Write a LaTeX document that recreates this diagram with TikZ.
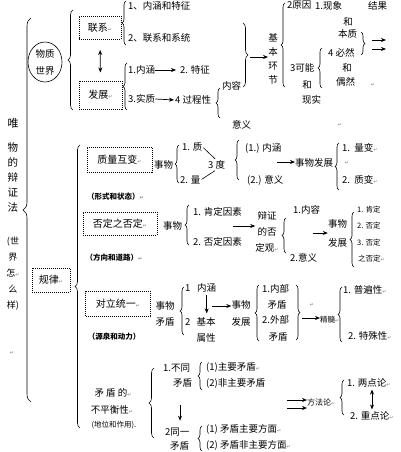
\documentclass[tikz,border=0pt]{standalone}
\usepackage{fontspec}
\setmainfont{Noto Sans CJK SC}
\newfontfamily\symf{DejaVu Sans}
\usetikzlibrary{arrows.meta,positioning,calc,shapes.geometric,decorations.pathreplacing}
\newcommand\fsz[1]{\fontsize{#1}{#1}\selectfont}
\newcommand\rt{{\color{gray}\symf\fsz{5}↵}}
\tikzset{
  txt/.style={inner sep=0pt, anchor=west, font=\fsz{9.5}},
  ctxt/.style={inner sep=0pt, align=center, font=\fsz{9.5}},
  vtxt/.style={inner sep=0pt, align=center, font=\fontsize{9.5}{#1}\selectfont},
  vtxt/.default=14,
  sm/.style={inner sep=0pt, anchor=west, font=\fsz{7.5}},
  tag/.style={inner sep=0pt, font=\bfseries\fsz{7.5}},
  dotbox/.style={draw, dash pattern=on 1pt off 1pt, line width=1pt, inner sep=0pt, font=\fsz{10}},
  arr/.style={-{Stealth[length=5pt,width=4pt]}, line width=0.7pt},
  dbl/.style={{Stealth[length=5pt,width=4pt]}-{Stealth[length=5pt,width=4pt]}, line width=0.7pt},
  brc/.style={decorate, decoration={brace, amplitude=#1}, line width=0.6pt},
  brc/.default=4pt,
  stroke/.style={line width=0.6pt}
}

\begin{document}
\begin{tikzpicture}[x=1pt,y=-1pt]
\useasboundingbox (0,0) rectangle (400,452);

% 总括
\node[ctxt, font=\fsz{11}] (wei) at (13,123) {唯};
\node[vtxt=15, font=\fontsize{10.5}{15}\selectfont] (wdbzf) at (13,178) {物\\的\\辩\\证\\法};
\node[vtxt=16, font=\fontsize{9}{16}\selectfont] (sjzmy) at (13,274) {(世\\界\\怎\rt\\么\\样)};
\node[inner sep=0pt] (r5) at (12,353) {\rt};
\draw[brc=8pt] (31,402) -- (31,18);

% 物质世界
\node[draw, ellipse, minimum width=34pt, minimum height=40pt, inner sep=0pt, align=center, font=\fontsize{9.5}{17}\selectfont, line width=0.6pt] (wzsj) at (45,62) {物质\\世界};
\draw[brc=5pt] (73,110) -- (73,10);
\node[dotbox, minimum width=42pt, minimum height=23pt] (lx) at (100,28) {联系\rt};
\node[dotbox, minimum width=43pt, minimum height=28pt] (fz) at (100.5,95) {发展\rt};
\draw[dbl, shorten <=10pt, shorten >=8pt] (lx.south) -- (fz.north);

\draw[brc] (126,45) -- (126,1);
\node[txt] (nhtz) at (128,5.5) {1、内涵和特征};
\node[txt] (lxxt) at (128,38) {2、联系和系统};
\draw[brc] (127,110) -- (127,63);
\node[txt] (nh1) at (128,70) {1.内涵};
\node[txt] (tz1) at (180,70) {2. 特征};
\draw[arr, shorten >=4pt] (nh1.east) -- (tz1.west);
\node[txt] (sz1) at (128,99) {3.实质};
\node[txt] (gcx) at (175,100) {4 过程性};
\draw[arr, shorten >=1pt] (sz1.east) -- (gcx.west);

\draw[brc] (220,118) -- (220,88);
\node[txt] (nr1) at (222,86) {内容};
\node[txt] (yy1) at (232,125) {意义};
\node[inner sep=0pt] (r1) at (340,125) {\rt};
\draw[brc=5pt] (243,23) -- (243,87);
\node[vtxt=14] (jbhj) at (273,59) {基\\本\\环\\节};
\coordinate (ajb) at (250,57);
\draw[arr] (ajb) -- (ajb -| jbhj.west);

\draw[brc] (285,87) -- (285,3);
\node[txt] (yy) at (287,5.5) {2原因};
\node[txt] (xx) at (315,5.5) {1.现象};
\node[txt] (jg) at (368,5.5) {结果};
\node[ctxt] (he1) at (348,22) {和};
\node[txt] (bz) at (338,34) {本质};
\node[txt] (br) at (328,53) {4 必然};
\node[ctxt] (he2) at (347,68) {和};
\node[txt] (or) at (336,82) {偶然};
\node[inner sep=0pt] (r2) at (373,85) {\rt};
\node[txt] (kn) at (290,68) {3可能};
\node[ctxt] (he3) at (307,85) {和};
\node[txt] (xs) at (302,100) {现实};
\draw[brc] (322,88) -- (322,48);
\draw[brc] (361,32) -- (361,55);
\coordinate (ayj1) at (372,40);
\coordinate (byj1) at (386,40);
\coordinate (ayj2) at (372,49);
\coordinate (byj2) at (386,49);
\draw[arr] (ayj1) -- (byj1);
\draw[arr] (ayj2) -- (byj2);

% 规律
\node[dotbox, minimum width=38pt, minimum height=24pt] (gl) at (51,280) {规律\rt};
\draw[brc=5pt] (80,428) -- (80,145);

% 质量互变
\node[dotbox, minimum width=65pt, minimum height=25pt] (zlhb) at (119.5,159.5) {质量互变\rt};
\node[tag] (xszt) at (115.5,197) {（形式和状态）\rt};
\node[txt] (sw1) at (154,165) {事物};
\draw[brc] (179,183) -- (179,145);
\node[txt] (z1) at (182,147) {1. 质};
\node[txt] (du) at (208,165) {3 度};
\node[txt] (l2) at (180,180) {2. 量};
\draw[stroke, shorten <=1pt, shorten >=2pt] (z1.east) -- (du.north);
\draw[stroke, shorten <=1pt, shorten >=2pt] (l2.east) -- (du.south);
\draw[brc] (239,180) -- (239,140);
\node[txt] (nh2) at (245,148) {(1.) 内涵};
\node[txt] (yy2) at (247,180) {(2.) 意义};
\node[txt] (swfz2) at (295,163) {事物发展};
\coordinate (a2) at (277,162);
\draw[arr] (a2) -- (a2 -| swfz2.west);
\draw[brc] (339,190) -- (339,143);
\node[txt] (lb) at (342,148) {1.\ \ 量变\rt};
\node[inner sep=0pt] (r3) at (347,163) {\rt};
\node[txt] (zb) at (342,180) {2.\ \ 质变\rt};

% 否定之否定
\node[dotbox, minimum width=74pt, minimum height=23pt] (fdzfd) at (120,223.5) {否定之否定\rt};
\node[tag] (fxdl) at (114,258) {（方向和道路）\rt};
\node[txt] (sw2) at (163,226) {事物};
\draw[brc] (189,245) -- (189,205);
\node[txt] (kdys) at (193,212) {1. 肯定因素};
\node[txt] (fdys) at (193,242) {2. 否定因素};
\node[vtxt=16] (bzfdg) at (267,232) {辩证\\的否\\定观\rt};
\coordinate (a3) at (233,226);
\draw[arr] (a3) -- (a3 -| bzfdg.west);
\draw[brc] (286,253) -- (286,218);
\node[txt] (nr3) at (293,210) {1.内容};
\node[txt] (yy3) at (290,258) {2.意义};
\node[vtxt=19] (swfz3) at (337.5,233.5) {事物\\发展};
\coordinate (a4) at (313,233);
\draw[arr] (a4) -- (a4 -| swfz3.west);
\draw[brc] (354,267) -- (354,212);
\node[sm] (kd) at (357,210) {1. 肯定};
\node[sm] (fd) at (357,226) {2. 否定};
\node[sm] (fd3) at (357,243) {3. 否定};
\node[sm] (zfd) at (358,259) {之否定\rt};

% 对立统一
\node[dotbox, minimum width=65pt, minimum height=25pt] (dltY) at (118,304) {对立统一\rt};
\node[tag] (yqdl) at (114,337) {（源泉和动力）};
\node[vtxt=16] (swmd) at (165,313.5) {事物\\矛盾};
\draw[brc] (184,335) -- (184,287);
\node[txt] (n41) at (185,288) {1};
\node[txt] (nh4) at (197,288) {内涵};
\node[txt] (n42) at (185,322) {2};
\node[vtxt=16] (jbsx) at (206,330) {基本\\属性};
\draw[arr, shorten <=2pt, shorten >=4pt] (nh4.south) -- (nh4.south |- jbsx.north);
\node[vtxt=17] (swfz4) at (241,313.5) {事物\\发展};
\coordinate (a5) at (212,306);
\draw[arr] (a5) -- (a5 -| swfz4.west);
\draw[brc] (259,341) -- (259,285);
\node[txt] (nbmd) at (262,289) {1.内部};
\node[ctxt] (md1) at (277,305) {矛盾};
\node[txt] (wbmd) at (262,320) {2.外部};
\node[ctxt] (md2) at (278,337) {矛盾};
\node[inner sep=0pt] (r4) at (312,305) {\rt};
\draw[brc] (296,285) -- (296,340);
\node[sm] (js) at (320,320) {精髓\rt};
\coordinate (a6) at (302,318);
\draw[arr] (a6) -- (a6 -| js.west);
\draw[brc] (342,342) -- (342,287);
\node[txt] (pbx) at (343,290) {1. 普遍性\rt};
\node[txt] (tsx) at (348,336) {2. 特殊性\rt};

% 矛盾的不平衡性
\node[ctxt] (mdd) at (113,393) {矛\ 盾\ 的\rt};
\node[ctxt] (bphx) at (112,410) {不平衡性\rt};
\node[tag, font=\fsz{7.5}] (dwzy) at (114,425) {(地位和作用).};
\draw[brc=5pt] (154,438) -- (154,368);
\node[txt] (bt) at (163,368) {1.不同};
\node[txt] (bt2) at (173,383) {矛盾};
\draw[brc] (202,390) -- (202,362);
\node[txt] (zymd) at (206,367) {(1)主要矛盾\rt};
\node[txt] (fzymd) at (206,383) {(2)非主要矛盾};
\node[txt] (ty) at (165,432) {2同一};
\node[txt] (ty2) at (170,446) {矛盾};
\draw[arr, shorten <=17pt, shorten >=7pt] (bt2.south -| 180,0) -- (ty.north -| 180,0);
\draw[brc] (202,451) -- (202,426);
\node[txt] (zyfm) at (206,429) {(1) 矛盾主要方面\rt};
\node[txt] (fzyfm) at (206,445) {(2) 矛盾非主要方面\rt};
\node[sm, font=\fsz{8}] (ffl) at (307,402) {方法论\rt};
\coordinate (a7) at (287,400);
\coordinate (a8) at (287,408);
\draw[arr] (a7) -- (a7 -| ffl.west);
\draw[arr] (a8) -- (a8 -| ffl.west);
\draw[brc] (344,415) -- (344,380);
\node[txt] (ldl) at (347,383) {1. 两点论\rt};
\node[txt] (zdl) at (350,416) {2. 重点论\rt};
\draw[dbl, shorten <=2pt, shorten >=2pt] (ldl.south -| 372,0) -- (zdl.north -| 372,0);
\end{tikzpicture}
\end{document}
